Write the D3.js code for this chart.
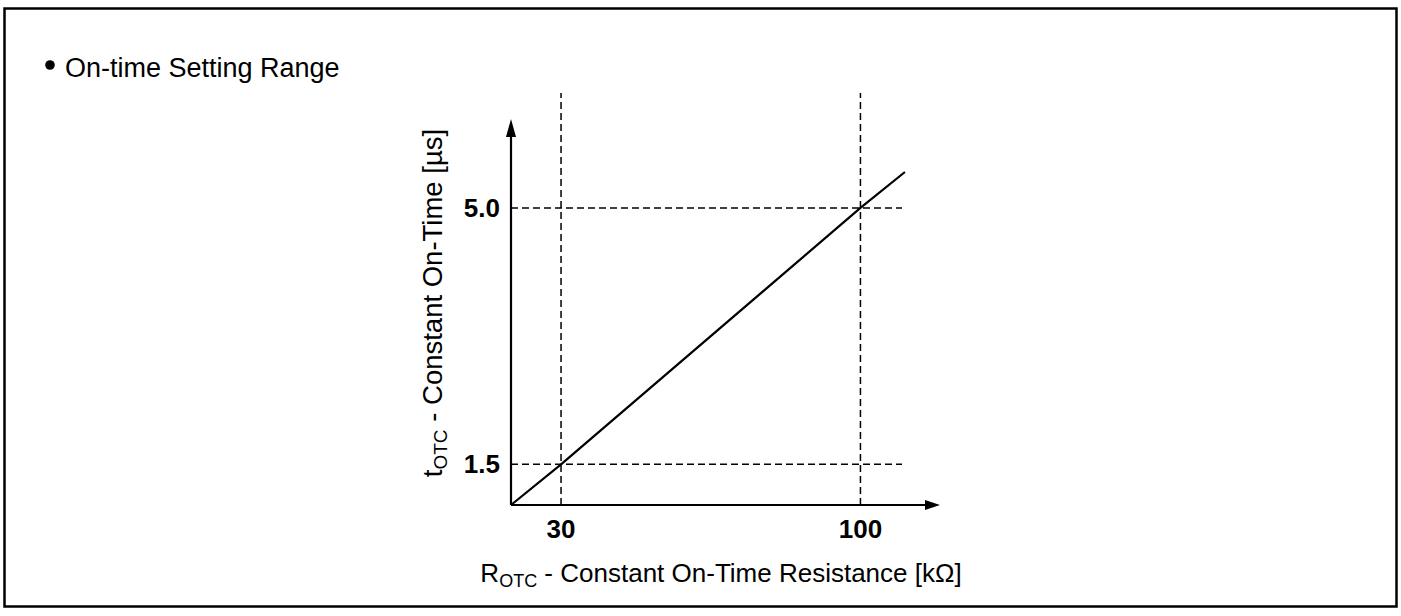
<!DOCTYPE html>
<html>
<head>
<meta charset="utf-8">
<script src="https://cdn.jsdelivr.net/npm/d3@7"></script>
<style>
  body { margin: 0; background: #fff; }
  text { font-family: "Liberation Sans", Arial, sans-serif; fill: #000; }
  .tick-label { font-weight: bold; font-size: 26px; }
</style>
</head>
<body>
<div id="chart"></div>
<script>
// schematic: value ranges
var xDomain = [18.3, 118.6];
var yDomain = [0.945, 6.2];

var xTicks = [30, 100];
var xTickLabels = ["30", "100"];
var yTicks = [1.5, 5.0];
var yTickLabels = ["1.5", "5.0"];

// on-time line
var lineR = [18.3, 30, 100, 110.4];
var lineT = [0.945, 1.5, 5.0, 5.49];

var svgWidth = 1401;
var svgHeight = 616;

var margin = { top: 120, left: 511 };
var width = 429;
var height = 385;

var svg = d3.select("#chart")
  .append("svg")
  .attr("width", svgWidth)
  .attr("height", svgHeight);

// outer frame
svg.append("rect")
  .attr("x", 4.5)
  .attr("y", 8.5)
  .attr("width", 1392)
  .attr("height", 598)
  .attr("fill", "none")
  .attr("stroke", "#000")
  .attr("stroke-width", 2.5);

// heading with bullet
svg.append("circle")
  .attr("cx", 50)
  .attr("cy", 65)
  .attr("r", 4.8)
  .attr("fill", "#000");

svg.append("text")
  .attr("x", 65)
  .attr("y", 77)
  .style("font-size", "27px")
  .text("On-time Setting Range");

var chartGroup = svg.append("g")
  .attr("transform", `translate(${margin.left}, ${margin.top})`);

var xScale = d3.scaleLinear().domain(xDomain).range([0, width]);
var yScale = d3.scaleLinear().domain(yDomain).range([height, 0]);

// dashed guides
chartGroup.selectAll(".vguide")
  .data(xTicks)
  .enter()
  .append("line")
  .attr("x1", d => xScale(d))
  .attr("x2", d => xScale(d))
  .attr("y1", height)
  .attr("y2", -27)
  .attr("stroke", "#000")
  .attr("stroke-width", 1.5)
  .attr("stroke-dasharray", "7,4");

chartGroup.selectAll(".hguide")
  .data(yTicks)
  .enter()
  .append("line")
  .attr("x1", 0)
  .attr("x2", width - 38)
  .attr("y1", d => yScale(d))
  .attr("y2", d => yScale(d))
  .attr("stroke", "#000")
  .attr("stroke-width", 1.5)
  .attr("stroke-dasharray", "7,4");

// axes with arrows
chartGroup.append("line")
  .attr("x1", 0).attr("y1", height)
  .attr("x2", width - 10).attr("y2", height)
  .attr("stroke", "#000")
  .attr("stroke-width", 2.2);

chartGroup.append("line")
  .attr("x1", 0).attr("y1", height)
  .attr("x2", 0).attr("y2", 10)
  .attr("stroke", "#000")
  .attr("stroke-width", 2.2);

chartGroup.append("path")
  .attr("d", `M${width},${height} L${width - 15},${height - 5} L${width - 15},${height + 5} Z`)
  .attr("fill", "#000");

chartGroup.append("path")
  .attr("d", `M0,-1 L-5,17 L5,17 Z`)
  .attr("fill", "#000");

// tick labels
chartGroup.selectAll(".xlab")
  .data(xTicks)
  .enter()
  .append("text")
  .classed("tick-label", true)
  .attr("x", d => xScale(d))
  .attr("y", height + 33)
  .attr("text-anchor", "middle")
  .text((d, i) => xTickLabels[i]);

chartGroup.selectAll(".ylab")
  .data(yTicks)
  .enter()
  .append("text")
  .classed("tick-label", true)
  .attr("x", -11)
  .attr("y", d => yScale(d))
  .attr("dy", "0.35em")
  .attr("text-anchor", "end")
  .text((d, i) => yTickLabels[i]);

// the line
var lineData = lineR.map((r, i) => ({ r: r, t: lineT[i] }));
var line = d3.line()
  .x(d => xScale(d.r))
  .y(d => yScale(d.t));

chartGroup.append("path")
  .datum(lineData)
  .attr("d", line)
  .attr("fill", "none")
  .attr("stroke", "#000")
  .attr("stroke-width", 2.2);

// axis titles
var xTitle = chartGroup.append("text")
  .attr("x", 210)
  .attr("y", height + 77)
  .attr("text-anchor", "middle")
  .style("font-size", "26px");
xTitle.append("tspan").text("R");
xTitle.append("tspan").attr("dy", 5).style("font-size", "18px").text("OTC");
xTitle.append("tspan").attr("dy", -5).text(" - Constant On-Time Resistance [kΩ]");

var yTitle = chartGroup.append("g")
  .attr("transform", "rotate(-90)")
  .append("text")
  .attr("x", -183)
  .attr("y", -69)
  .attr("text-anchor", "middle")
  .style("font-size", "27.5px");
yTitle.append("tspan").text("t");
yTitle.append("tspan").attr("dy", 5).style("font-size", "19px").text("OTC");
yTitle.append("tspan").attr("dy", -5).text(" - Constant On-Time [µs]");
</script>
</body>
</html>
